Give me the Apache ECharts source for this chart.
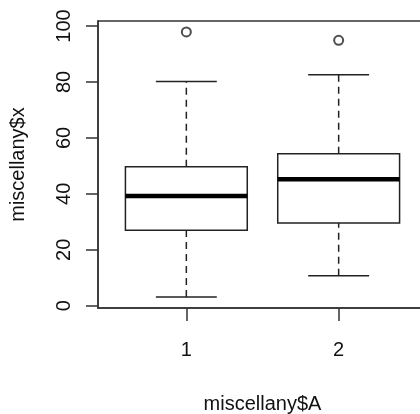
<!DOCTYPE html>
<html>
<head>
<meta charset="utf-8">
<script src="https://cdn.jsdelivr.net/npm/echarts@6/dist/echarts.min.js"></script>
<style>
  html, body { margin: 0; padding: 0; background: #fff; }
  #chart { width: 420px; height: 414px; }
</style>
</head>
<body>
<div id="chart"></div>
<script>
// boxplot stats per group
const groups = [1, 2]
const whiskerLow = [3.1, 10.7]
const q1 = [27.0, 29.6]
const median = [39.2, 45.2]
const q3 = [49.7, 54.3]
const whiskerHigh = [80.2, 82.6]
const outlierX = [1, 2]
const outlierY = [97.9, 94.9]
const yTicks = [0, 20, 40, 60, 80, 100]

const font = 'Liberation Sans, Arial, sans-serif'
const ink = '#222'

const boxData = groups.map((g, i) => [g, whiskerLow[i], q1[i], median[i], q3[i], whiskerHigh[i]])
const outlierData = outlierX.map((x, i) => [x, outlierY[i]])

function renderBox (params, api) {
  const x = api.value(0)
  const lo = api.value(1)
  const b1 = api.value(2)
  const med = api.value(3)
  const b3 = api.value(4)
  const hi = api.value(5)
  const hw = 0.4
  const cw = 0.2
  const p = (a, b) => api.coord([a, b])
  const tl = p(x - hw, b3)
  const br = p(x + hw, b1)
  const line = (a, b, style) => ({
    type: 'line',
    shape: { x1: a[0], y1: a[1], x2: b[0], y2: b[1] },
    style: Object.assign({ stroke: ink, lineWidth: 1.5 }, style || {})
  })
  const dashed = { lineDash: [7, 5] }
  return {
    type: 'group',
    children: [
      line(p(x, b3), p(x, hi), dashed),
      line(p(x, lo), p(x, b1), dashed),
      line(p(x - cw, hi), p(x + cw, hi)),
      line(p(x - cw, lo), p(x + cw, lo)),
      {
        type: 'rect',
        shape: { x: tl[0], y: tl[1], width: br[0] - tl[0], height: br[1] - tl[1] },
        style: { fill: '#fff', stroke: ink, lineWidth: 1.5 }
      },
      line(p(x - hw, med), p(x + hw, med), { stroke: '#000', lineWidth: 4.5 })
    ]
  }
}

const chart = echarts.init(document.getElementById('chart'))
chart.setOption({
  animation: false,
  backgroundColor: '#fff',
  grid: {
    left: 98,
    top: 21,
    width: 329,
    height: 287,
    outerBoundsMode: 'none',
    show: true,
    borderColor: '#333',
    borderWidth: 1.5,
    backgroundColor: 'transparent'
  },
  xAxis: {
    type: 'value',
    min: 0.42,
    max: 2.58,
    name: 'miscellany$A',
    nameLocation: 'middle',
    nameGap: 86,
    nameTextStyle: { fontFamily: font, fontSize: 20, color: '#111' },
    axisLine: { show: true, onZero: false, lineStyle: { color: '#333', width: 1.5 } },
    axisTick: { show: true, length: 13, customValues: groups, lineStyle: { color: '#333', width: 1.5 } },
    axisLabel: { customValues: groups, margin: 32, fontFamily: font, fontSize: 20, color: '#111' },
    splitLine: { show: false }
  },
  yAxis: {
    type: 'value',
    min: -0.8,
    max: 101.8,
    name: 'miscellany$x',
    nameLocation: 'middle',
    nameGap: 70,
    nameRotate: 90,
    nameTextStyle: { fontFamily: font, fontSize: 20, color: '#111' },
    axisLine: { show: true, lineStyle: { color: '#333', width: 1.5 } },
    axisTick: { show: true, length: 12, customValues: yTicks, lineStyle: { color: '#333', width: 1.5 } },
    axisLabel: { customValues: yTicks, rotate: 90, margin: 24, fontFamily: font, fontSize: 20, color: '#111' },
    splitLine: { show: false }
  },
  series: [
    {
      type: 'custom',
      renderItem: renderBox,
      data: boxData,
      encode: { x: 0, y: [1, 2, 3, 4, 5] }
    },
    {
      type: 'scatter',
      data: outlierData,
      symbol: 'emptyCircle',
      symbolSize: 9,
      itemStyle: { color: ink, borderColor: ink, borderWidth: 1.5 }
    }
  ]
})
</script>
</body>
</html>
